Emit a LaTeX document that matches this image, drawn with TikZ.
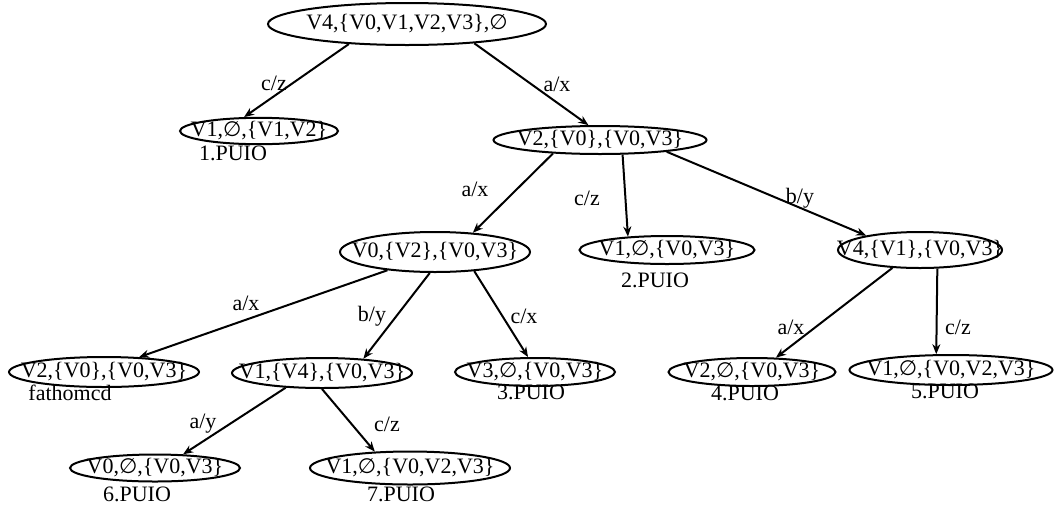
\documentclass[tikz,border=0pt]{standalone}
\usepackage{fontspec}
\setmainfont{Liberation Serif}
\newfontfamily\symf{DejaVu Sans}
\usetikzlibrary{shapes.geometric,arrows.meta}
\newcommand{\es}{{\symf\fontsize{21}{22}\selectfont ∅}}
\tikzset{
  ell/.style={draw, ellipse, line width=2pt, inner sep=0pt, font=\fontsize{22}{24}\selectfont},
  lbl/.style={font=\fontsize{22}{24}\selectfont, inner sep=0pt},
  conn/.style={line width=2pt, -{Stealth[length=10pt,width=8pt]}}
}
\newcommand{\ET}[1]{\makebox[0pt]{#1}}
\begin{document}
\begin{tikzpicture}[x=1pt,y=-1pt]
\useasboundingbox (0,0) rectangle (1056,512);
% nodes
\node[ell, minimum width=278pt, minimum height=42pt] (r) at (407,24) {\ET{V4,\{V0,V1,V2,V3\},\es}};
\node[ell, minimum width=158pt, minimum height=26pt] (n1) at (259,131) {\ET{V1,\es,\{V1,V2\}}};
\node[ell, minimum width=213pt, minimum height=28pt] (n2) at (600,140) {\ET{V2,\{V0\},\{V0,V3\}}};
\node[ell, minimum width=190pt, minimum height=40pt] (n3) at (435,252) {\ET{V0,\{V2\},\{V0,V3\}}};
\node[ell, minimum width=175pt, minimum height=28pt] (n4) at (667,250) {\ET{V1,\es,\{V0,V3\}}};
\node[ell, minimum width=164pt, minimum height=36pt] (n5) at (920,250) {\ET{V4,\{V1\},\{V0,V3\}}};
\node[ell, minimum width=190pt, minimum height=30pt] (n6) at (104,372) {\ET{V2,\{V0\},\{V0,V3\}}};
\node[ell, minimum width=180pt, minimum height=30pt] (n7) at (322,373) {\ET{V1,\{V4\},\{V0,V3\}}};
\node[ell, minimum width=160pt, minimum height=28pt] (n8) at (535,372) {\ET{V3,\es,\{V0,V3\}}};
\node[ell, minimum width=167pt, minimum height=28pt] (n9) at (752,372) {\ET{V2,\es,\{V0,V3\}}};
\node[ell, minimum width=203pt, minimum height=30pt] (n10) at (951,370) {\ET{V1,\es,\{V0,V2,V3\}}};
\node[ell, minimum width=170pt, minimum height=27pt] (n11) at (155,468) {\ET{V0,\es,\{V0,V3\}}};
\node[ell, minimum width=200pt, minimum height=33pt] (n12) at (410,468) {\ET{V1,\es,\{V0,V2,V3\}}};
% outcome labels
\node[lbl] (p1) at (233,153) {1.PUIO};
\node[lbl] (p2) at (655,280) {2.PUIO};
\node[lbl] (f6) at (70,393) {fathomcd};
\node[lbl] (p3) at (531,392) {3.PUIO};
\node[lbl] (p4) at (745,393) {4.PUIO};
\node[lbl] (p5) at (945,391) {5.PUIO};
\node[lbl] (p6) at (137,494) {6.PUIO};
\node[lbl] (p7) at (401,494) {7.PUIO};
% connectors
\draw[conn] (r.199) -- (n1.137);
\draw[conn] (r.344) -- (n2.128);
\draw[conn] (n2.196) -- (n3.27);
\draw[conn] (n2.327.5) -- (n4.161);
\draw[conn] (n2.350) -- (n5.165);
\draw[conn] (n3.201) -- (n6.23);
\draw[conn] (n3.256) -- (n7.19);
\draw[conn] (n3.334) -- (n8.115);
\draw[conn] (n5.213) -- (n9.31);
\draw[conn] (n5.313) -- (n10.133);
\draw[conn] (n7.202) -- (n11.26);
\draw[conn] (n7.270) -- (n12.155);
% edge labels
\node[lbl] (l1) at (274,83) {c/z};
\node[lbl] (l2) at (557,84) {a/x};
\node[lbl] (l3) at (475,189) {a/x};
\node[lbl] (l4) at (587,198) {c/z};
\node[lbl] (l5) at (800,198) {b/y};
\node[lbl] (l6) at (246,303) {a/x};
\node[lbl] (l7) at (372,316) {b/y};
\node[lbl] (l8) at (524,316) {c/x};
\node[lbl] (l9) at (791,327) {a/x};
\node[lbl] (l10) at (958,327) {c/z};
\node[lbl] (l11) at (203,424) {a/y};
\node[lbl] (l12) at (387,424) {c/z};
\end{tikzpicture}
\end{document}
